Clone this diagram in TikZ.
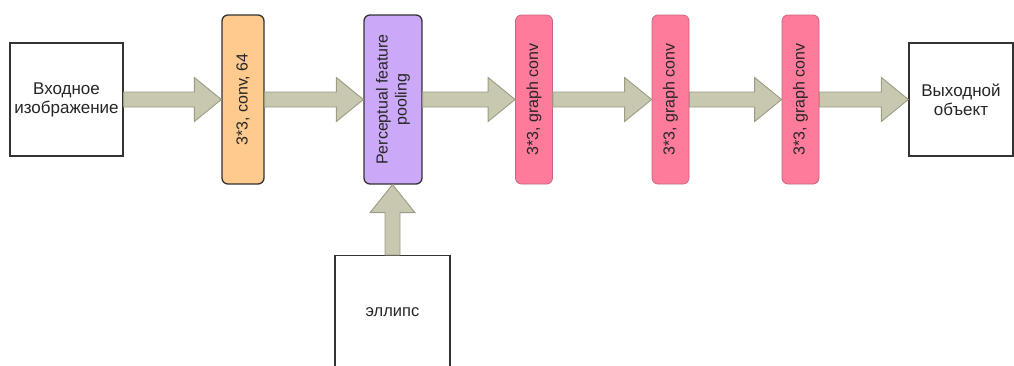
\documentclass[tikz,border=0pt]{standalone}
\usepackage{fontspec}
\setmainfont{Liberation Sans}
\usetikzlibrary{calc}
\definecolor{convfill}{HTML}{FFCA8E}
\definecolor{poolfill}{HTML}{CCA8F8}
\definecolor{gcfill}{HTML}{FF7B9C}
\definecolor{gcedge}{HTML}{C96580}
\definecolor{arrowfill}{HTML}{C8C8B0}
\definecolor{arrowedge}{HTML}{9C9C84}
\definecolor{ink}{HTML}{262626}
\definecolor{boxedge}{HTML}{333333}
\tikzset{
  txt/.style={font=\fontsize{16}{19}\selectfont, text=ink, align=center, inner sep=0pt},
  plainbox/.style={txt, font=\fontsize{17}{19}\selectfont, draw=boxedge, line width=1.3pt, fill=white, rectangle},
  layer/.style={txt, rectangle, rounded corners=6pt, rotate=90, minimum width=169pt},
  convbox/.style={layer, draw=boxedge, line width=1.3pt, fill=convfill, minimum height=42pt},
  poolbox/.style={layer, draw=boxedge, line width=1.3pt, fill=poolfill, minimum height=58pt},
  gcbox/.style={layer, draw=gcedge, line width=0.8pt, fill=gcfill, minimum height=37pt},
  flowarrow/.style={fill=arrowfill, draw=arrowedge, line width=0.9pt, line join=miter},
}
% horizontal block arrow from the right side of #1 to the left side of #2
\newcommand\flowright[2]{%
  \path[flowarrow] let \p1=(#1.south), \p2=(#2.north), \p3=($(#1.center)$) in
    (\x1,\y3+7.5pt) -- (\x2-27pt,\y3+7.5pt) -- (\x2-27pt,\y3+22pt) -- (\x2,\y3)
    -- (\x2-27pt,\y3-22pt) -- (\x2-27pt,\y3-7.5pt) -- (\x1,\y3-7.5pt) -- cycle;}
\begin{document}
\begin{tikzpicture}[x=1pt,y=-1pt]
\useasboundingbox (0,0) rectangle (1014,365);
\clip (0,0) rectangle (1014,365);

% input and output boxes
\node[plainbox, minimum width=113pt, minimum height=113pt] (inbox) at (66.5,99.5) {Входное\\изображение};
\node[plainbox, minimum width=104pt, minimum height=113pt] (outbox) at (961,99.5) {Выходной\\объект};
\node[plainbox, minimum width=115pt, minimum height=130pt, anchor=north] (ell) at (392.5,255) {};
\node[txt, font=\fontsize{16.5}{19}\selectfont] (elltext) at (392.5,312) {эллипс};

% network layers
\node[convbox] (conv) at (243,99.5) {3*3, conv, 64};
\node[poolbox] (pool) at (393,99.5) {Perceptual feature\\pooling};
\node[gcbox] (gc1) at (534,99.5) {3*3, graph conv};
\node[gcbox] (gc2) at (670.5,99.5) {3*3, graph conv};
\node[gcbox] (gc3) at (800.5,99.5) {3*3, graph conv};

% block arrows between the stages (rotated nodes: south is the right side)
\path[flowarrow] let \p1=(inbox.east), \p2=(conv.north) in
  (\x1,\y1+7.5pt) -- (\x2-27pt,\y1+7.5pt) -- (\x2-27pt,\y1+22pt) -- (\x2,\y1)
  -- (\x2-27pt,\y1-22pt) -- (\x2-27pt,\y1-7.5pt) -- (\x1,\y1-7.5pt) -- cycle;
\flowright{conv}{pool}
\flowright{pool}{gc1}
\flowright{gc1}{gc2}
\flowright{gc2}{gc3}
\path[flowarrow] let \p1=(gc3.south), \p2=(outbox.west) in
  (\x1,\y2+7.5pt) -- (\x2-27pt,\y2+7.5pt) -- (\x2-27pt,\y2+22pt) -- (\x2,\y2)
  -- (\x2-27pt,\y2-22pt) -- (\x2-27pt,\y2-7.5pt) -- (\x1,\y2-7.5pt) -- cycle;

% upward arrow from the ellipse box into the pooling layer
\path[flowarrow] let \p1=(ell.north), \p2=(pool.west) in
  (\x1-7.5pt,\y1) -- (\x1-7.5pt,\y2-28pt) -- (\x1-22.5pt,\y2-28pt) -- (\x1,\y2)
  -- (\x1+22.5pt,\y2-28pt) -- (\x1+7.5pt,\y2-28pt) -- (\x1+7.5pt,\y1) -- cycle;
\end{tikzpicture}
\end{document}
